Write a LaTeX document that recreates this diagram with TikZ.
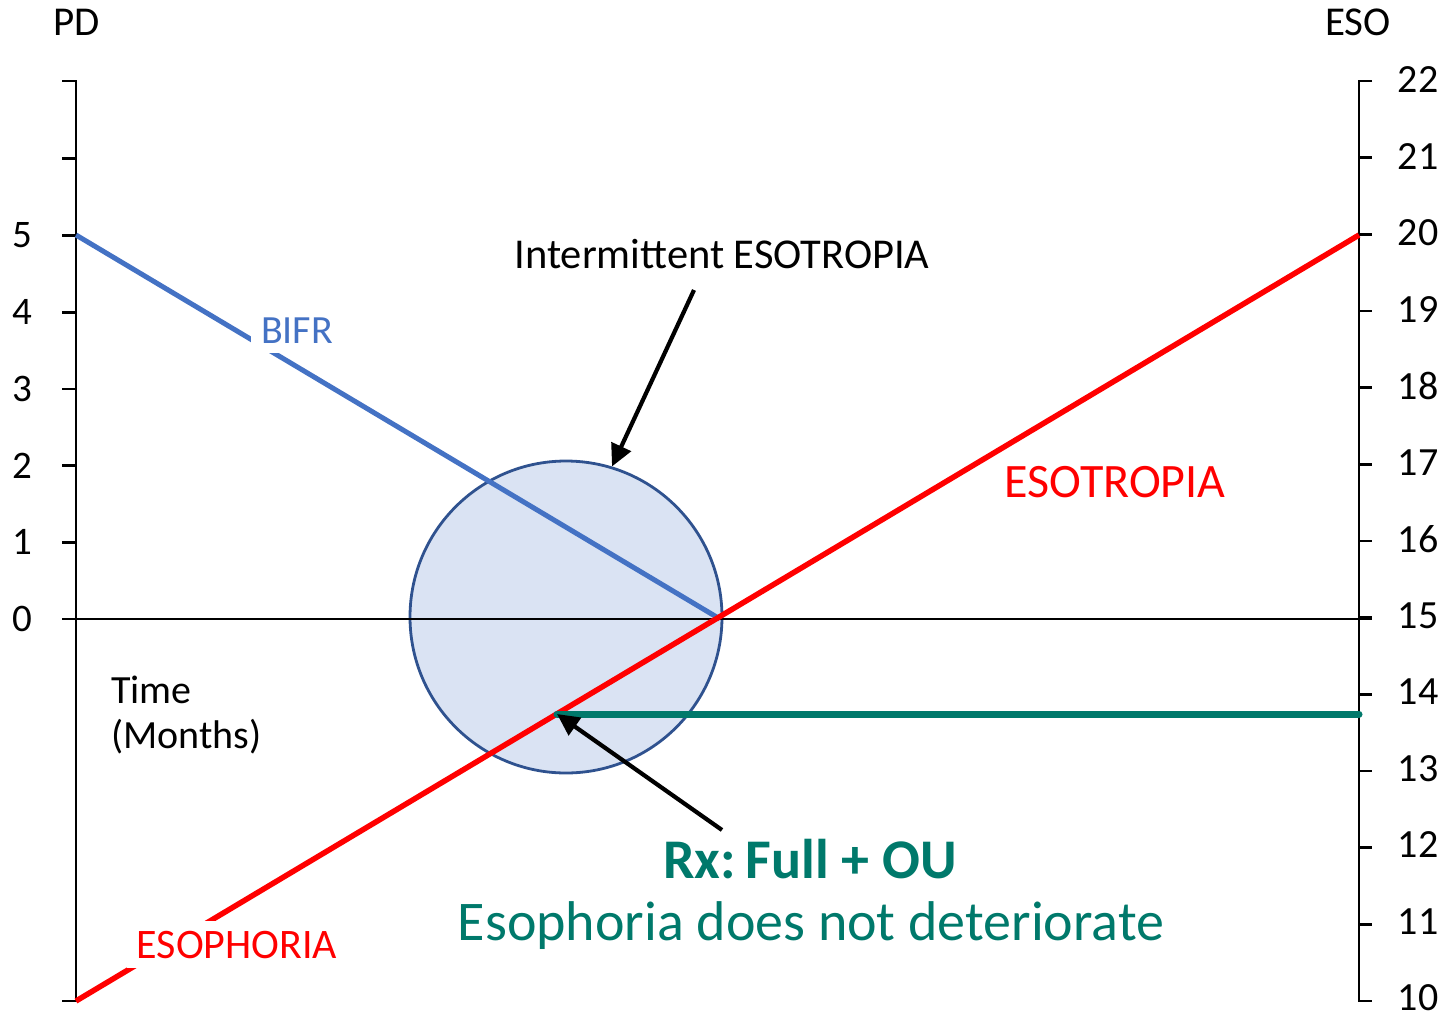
\documentclass[tikz,border=0pt]{standalone}
\usepackage{fontspec}
\setmainfont{Carlito}
\usetikzlibrary{arrows.meta,positioning}
\definecolor{lblue}{HTML}{4472C4}
\definecolor{lred}{HTML}{FF0000}
\definecolor{lteal}{HTML}{00796B}
\definecolor{zfill}{HTML}{DAE3F3}
\definecolor{zdraw}{HTML}{2F528F}
\tikzset{
  % axes and scale labels
  axisln/.style = {line width=2.8pt, black},
  zeroln/.style = {line width=2.6pt, black},
  lnum/.style   = {font=\fontsize{39}{46}\selectfont, inner sep=0pt},
  rnum/.style   = {font=\fontsize{40}{46}\selectfont, inner sep=0pt},
  ttl/.style    = {font=\fontsize{41}{46}\selectfont, inner sep=0pt, anchor=base},
  % data lines
  bifrln/.style = {line width=5pt, lblue},
  esoln/.style  = {line width=5.5pt, lred},
  rxln/.style   = {line width=7pt, lteal, line cap=round},
  zone/.style   = {circle, draw=zdraw, fill=zfill, line width=2.8pt, minimum size=312pt, inner sep=0pt},
  ptr/.style    = {-{Triangle[length=22pt,width=21pt]}, line width=4.2pt, black},
  % annotations
  txt/.style    = {font=\fontsize{40}{46}\selectfont, inner sep=0pt, anchor=base},
  cut/.style    = {fill=white, inner sep=10pt, anchor=base},
  rxtxt/.style  = {font=\fontsize{56}{62}\selectfont, text=lteal, inner sep=0pt, anchor=base},
}
\begin{document}
\begin{tikzpicture}[x=1pt,y=-1pt]
\useasboundingbox (0,0) rectangle (1452,1018);
\node[zone] (zone) at (566,617) {};
% axes
\draw[axisln] (62,81) -- (76,81) -- (76,1001) -- (62,1001);
\draw[axisln] (1372,81) -- (1359,81) -- (1359,1001) -- (1372,1001);
\foreach \v in {1,...,6} {\draw[axisln] (62,{619-\v*76.7}) -- (76,{619-\v*76.7});}
\foreach \v in {11,...,21} {\draw[axisln] (1359,{1001-(\v-10)*76.67}) -- (1372,{1001-(\v-10)*76.67});}
\foreach \v in {0,...,5} {\node[lnum] (l\v) at (22,{619-\v*76.7}) {\v};}
\foreach \v in {10,...,22} {\node[rnum] (r\v) at (1418,{998-(\v-10)*76.5}) {\v};}
\node[ttl] (pd) at (77,35) {PD};
\node[ttl] (eso) at (1358,35) {ESO};
\draw[zeroln] (62,619) -- (1372,619);
% lines
\coordinate (bifrA) at (76,235);
\coordinate (cross) at (720,619);
\coordinate (esoA) at (76,1001);
\coordinate (esoB) at (1359,235);
\coordinate (rxA) at (557,714);
\coordinate (rxB) at (1359,714);
\draw[bifrln] (bifrA) -- (cross);
\draw[esoln] (esoA) -- (esoB);
\draw[rxln] (rxA) -- (rxB);
% labels
\node[txt, cut, text=lblue] (bifr) at (297,343) {BIFR};
\node[txt, cut, text=lred, font=\fontsize{42}{46}\selectfont] (esoph) at (237,958) {ESOPHORIA};
\node[txt, text=lred, font=\fontsize{48}{52}\selectfont] (esot) at (1115,497) {ESOTROPIA};
\node[txt, font=\fontsize{42.5}{46}\selectfont] (inter) at (722,268) {Intermittent ESOTROPIA};
\node[txt, anchor=north west, align=left, font=\fontsize{40}{45}\selectfont] (time) at (111,676) {Time\\(Months)};
\node[rxtxt, font=\fontsize{56}{62}\selectfont\bfseries] (rx) at (810,878) {Rx:\hspace{-0.12em} Full + OU};
\node[rxtxt] (rxnote) at (811,940) {Esophoria does not deteriorate};
% pointers
\coordinate (itail) at (694,290);
\coordinate (rtail) at (722,830);
\draw[ptr] (itail) -- (zone.73);
\draw[ptr] (rtail) -- (rxA);
\end{tikzpicture}
\end{document}
